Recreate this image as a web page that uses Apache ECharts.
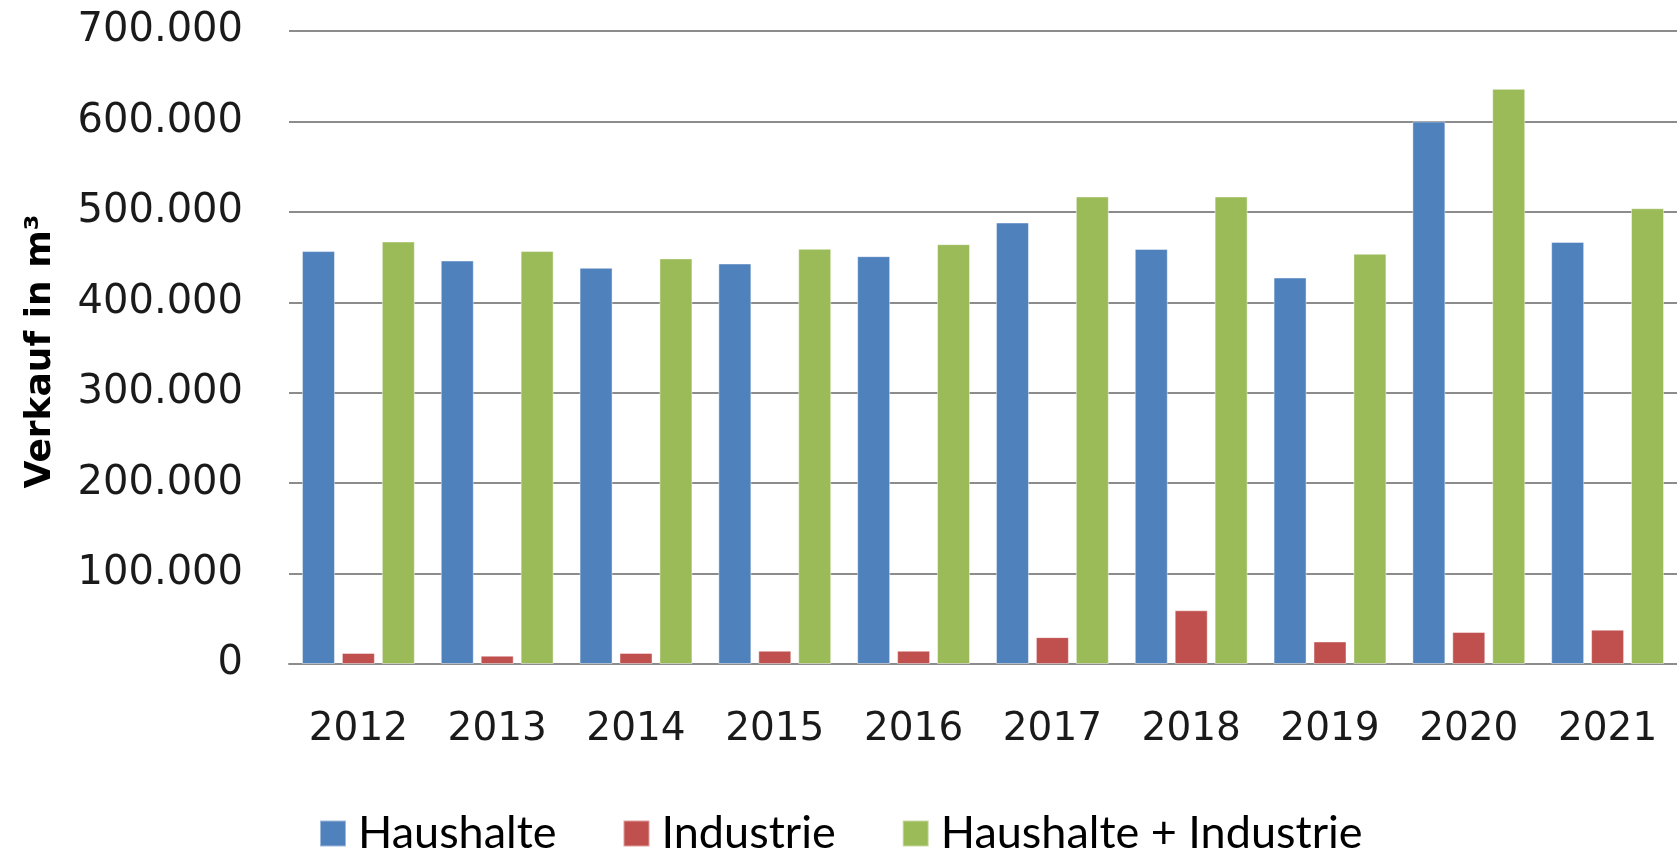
<!DOCTYPE html>
<html>
<head>
<meta charset="utf-8">
<script src="https://cdn.jsdelivr.net/npm/echarts@6/dist/echarts.min.js"></script>
<style>
html,body{margin:0;padding:0;background:#fff;}
#chart{width:1677px;height:853px;}
</style>
</head>
<body>
<div id="chart"></div>
<script>
const categories = ['2012','2013','2014','2015','2016','2017','2018','2019','2020','2021'];
const haushalte = [456600, 446200, 438100, 442900, 451000, 488200, 459000, 427400, 600000, 466800];
const industrie = [12200, 9200, 12200, 14700, 14700, 29700, 59400, 24900, 35400, 38000];
const gesamt = [467200, 456600, 448500, 459100, 464300, 517000, 517000, 453700, 636000, 504000];
const yTickLabels = ['0','100.000','200.000','300.000','400.000','500.000','600.000','700.000'];
const seriesNames = ['Haushalte','Industrie','Haushalte + Industrie'];
const axisTitle = 'Verkauf in m³';

const chart = echarts.init(document.getElementById('chart'), null, {renderer:'canvas'});
const colors = ['#4F81BD','#C0504D','#9BBB59'];
const mk = (name, data, i) => ({
  name, type:'bar', data, barWidth:33, barGap:'21%',
  itemStyle:{color:colors[i], borderColor:'rgba(255,255,255,0.45)', borderWidth:1},
  animation:false
});
chart.setOption({
  animation:false,
  color: colors,
  grid:{left:289, right:0, top:31, bottom:189, containLabel:false},
  legend:{
    data: seriesNames,
    top: 806, left: 314,
    itemWidth:26, itemHeight:26, itemGap:66,
    icon:'rect',
    textStyle:{fontFamily:'Lato', fontSize:45, color:'#000', padding:[0,0,0,7]}
  },
  xAxis:{
    type:'category', data:categories,
    axisLine:{lineStyle:{color:'#8c8c8c', width:2}},
    axisTick:{show:false},
    axisLabel:{fontFamily:'DejaVu Sans', fontSize:39, color:'#1a1a1a', margin:46}
  },
  yAxis:{
    type:'value', min:0, max:700000, interval:100000,
    name: axisTitle, nameLocation:'middle', nameGap:230, nameRotate:90,
    nameTextStyle:{fontFamily:'DejaVu Sans', fontWeight:'bold', fontSize:36, color:'#000', padding:[0,8,0,0]},
    axisLine:{show:false}, axisTick:{show:false},
    splitLine:{lineStyle:{color:'#8c8c8c', width:2}},
    axisLabel:{fontFamily:'DejaVu Sans', fontSize:40, color:'#1a1a1a', margin:46,
      formatter:(v)=>yTickLabels[Math.round(v/100000)]}
  },
  series:[mk(seriesNames[0], haushalte, 0), mk(seriesNames[1], industrie, 1), mk(seriesNames[2], gesamt, 2)]
});
</script>
</body>
</html>
